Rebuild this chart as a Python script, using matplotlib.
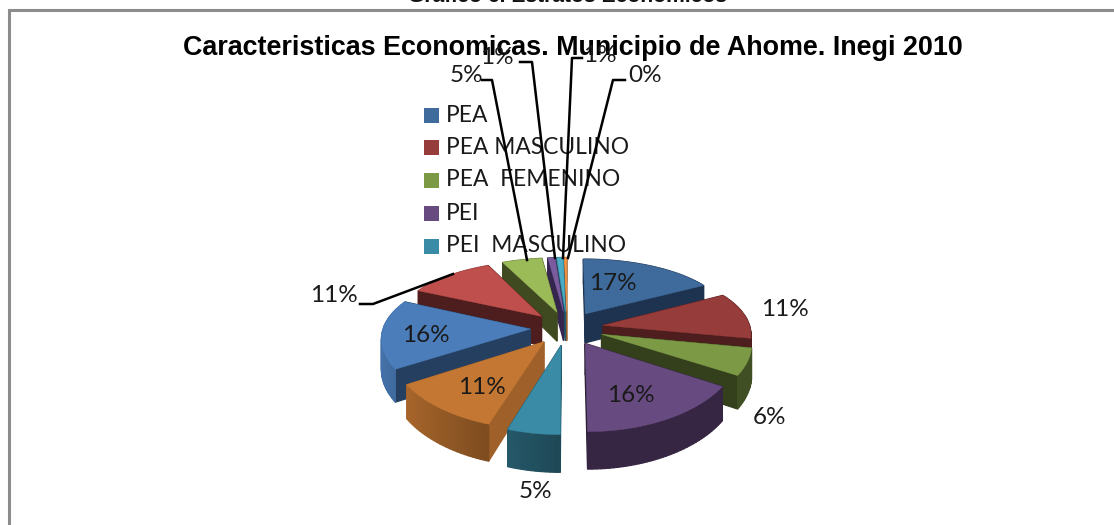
import numpy as np
import matplotlib
matplotlib.use("Agg")
import matplotlib.pyplot as plt
from matplotlib.patches import Polygon

W, H = 1114, 525

categorias = ["PEA", "PEA MASCULINO", "PEA  FEMENINO", "PEI", "PEI  MASCULINO",
              "PEI  FEMENINO", "PT", "PT MASCULINO", "PT FEMENINO", "OTROS 1", "OTROS 2", "OTROS 3"]
valores = [17.0, 11.0, 6.0, 16.0, 5.0, 11.0, 16.0, 11.0, 5.0, 0.9, 0.8, 0.3]
etiquetas = ["17%", "11%", "6%", "16%", "5%", "11%", "16%", "11%", "5%", "1%", "1%", "0%"]
colores = ["#3F6A9C", "#963C3A", "#7C9A45", "#674A80", "#3A8BA5", "#C47732",
           "#4B7DBB", "#BE4F4C", "#9BBB59", "#7A5C9E", "#4BACC6", "#F79646"]
oscuros = ["#1E3350", "#4D1E1D", "#343F1C", "#2C2136", "#205A6A", "#A0602A",
           "#243F60", "#4D1E1D", "#3F4A20", "#352650", "#205A6A", "#A0602A"]

# posicion de cada etiqueta en pixeles
pos_etiquetas = [(613, 284), (785, 309), (769, 417), (631, 395), (535, 491), (482, 388),
                 (426, 335), (334, 296), (466, 75), (497, 57), (600, 56), (645, 75)]
lideres = [[(360, 304), (373, 304), (453, 274)],
           [(482, 80), (492, 80), (527, 260)],
           [(520, 62), (532, 62), (555, 258)],
           [(582, 58), (572, 58), (563, 258)],
           [(625, 80), (613, 80), (568, 258)]]

cx, cy = 567, 328
Rx, Ry = 147, 68
persp = 0.164
persp_x = 0.115
explode = 0.25
alto = 30


def proyectar(x, y, z=0.0):
    s = 1 / (1 + persp * y)
    sx = 1 / (1 + persp_x * y)
    return cx + x * Rx * sx, cy - y * Ry * s + z * s


def oscurecer(color, f):
    rgb = np.array(matplotlib.colors.to_rgb(color))
    return tuple(rgb * f)


fig = plt.figure(figsize=(W / 100, H / 100), dpi=100)
ax = fig.add_axes([0, 0, 1, 1])
ax.set_xlim(0, W)
ax.set_ylim(H, 0)
ax.axis("off")

# marco del grafico
ax.plot([8.5, 8.5, W], [H, 10, 10], color="#8C8C8C", lw=2.2, solid_joinstyle="miter")

ax.text(567, -4, "Grafico 6. Estratos Economicos", ha="center", va="center",
        fontsize=15.2, fontweight="bold", family="Liberation Sans", color="#111111")
ax.text(573, 48, "Caracteristicas Economicas. Municipio de Ahome. Inegi 2010", ha="center", va="center",
        fontsize=19.35, fontweight="bold", family="Liberation Sans", color="black")

acum = np.concatenate([[0], np.cumsum(valores)]) / np.sum(valores) * 2 * np.pi
rebanadas = []
for i in range(len(valores)):
    a0, a1 = acum[i], acum[i + 1]
    mid = (a0 + a1) / 2
    ox, oy = explode * np.sin(mid), explode * np.cos(mid)
    rebanadas.append((oy + 0.5 * np.cos(mid), i, a0, a1, ox, oy))

# de atras hacia adelante
for _, i, a0, a1, ox, oy in sorted(rebanadas, reverse=True):
    ang = np.linspace(a0, a1, max(3, int((a1 - a0) * 40)))
    bx = ox + np.sin(ang)
    by = oy + np.cos(ang)
    caras = []
    for xp, yp in [(bx[0], by[0]), (bx[-1], by[-1])]:
        q = [proyectar(ox, oy), proyectar(xp, yp), proyectar(xp, yp, alto), proyectar(ox, oy, alto)]
        caras.append(((oy + yp) / 2, q, oscuros[i]))
    for j in range(len(ang) - 1):
        q = [proyectar(bx[j], by[j]), proyectar(bx[j + 1], by[j + 1]),
             proyectar(bx[j + 1], by[j + 1], alto), proyectar(bx[j], by[j], alto)]
        # el borde se aclara hacia la izquierda
        f = 0.52 + 0.4 * max(0, -np.sin(ang[j]))
        caras.append(((by[j] + by[j + 1]) / 2, q, oscurecer(colores[i], f)))
    for _, q, c in sorted(caras, key=lambda t: -t[0]):
        ax.add_patch(Polygon(q, closed=True, facecolor=c, edgecolor=c, lw=0.9))
    tapa = [proyectar(ox, oy)] + [proyectar(x, y) for x, y in zip(bx, by)]
    ax.add_patch(Polygon(tapa, closed=True, facecolor=colores[i], edgecolor=colores[i], lw=0.3))

for pts in lideres:
    xs, ys = zip(*pts)
    ax.plot(xs, ys, color="black", lw=1.8, zorder=5)

for txt, (x, y) in zip(etiquetas, pos_etiquetas):
    ax.text(x, y, txt, ha="center", va="center", fontsize=17.5, family="Lato", color="#1A1A1A", zorder=6)

# leyenda, solo caben cinco entradas
ley_y = [115, 147, 180, 213, 246]
for nombre, color, y in zip(categorias[:5], colores[:5], ley_y):
    ax.add_patch(Polygon([(424, y - 7.5), (439, y - 7.5), (439, y + 7.5), (424, y + 7.5)], closed=True,
                         facecolor=color, edgecolor="none", zorder=4))
    ax.text(446, y, nombre, ha="left", va="center", fontsize=16.4, family="Lato", color="#1A1A1A", zorder=4)

fig.savefig("out.png", dpi=100)
